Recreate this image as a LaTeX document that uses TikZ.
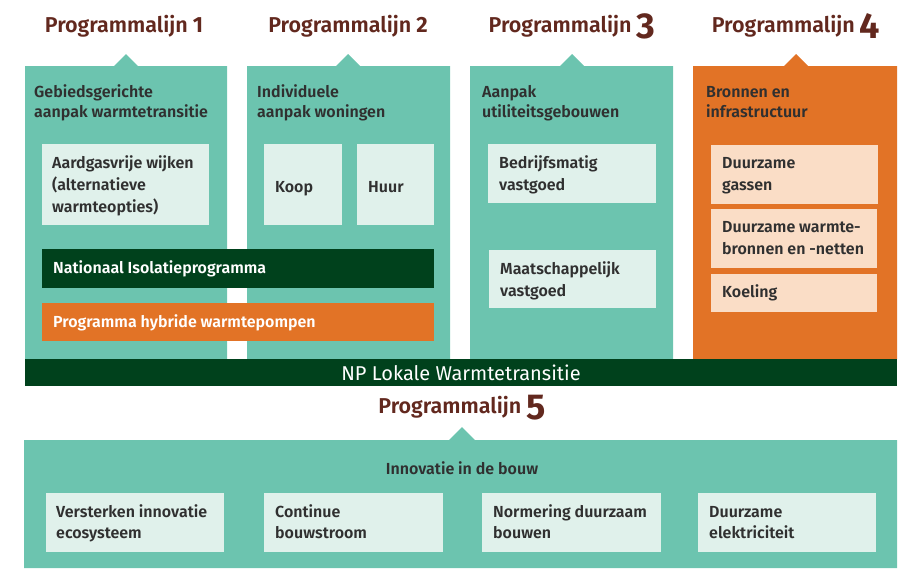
\documentclass[tikz,border=0pt]{standalone}
\usepackage{fontspec}
\setmainfont{Fira Sans}[BoldFont={Fira Sans SemiBold}]
\newfontfamily\digfont{Fira Sans}
\definecolor{cTeal}{RGB}{108,196,175}
\definecolor{cMint}{RGB}{224,241,235}
\definecolor{cOrange}{RGB}{226,115,38}
\definecolor{cPeach}{RGB}{250,221,198}
\definecolor{cDark}{RGB}{0,65,28}
\definecolor{cHead}{RGB}{98,40,30}
\definecolor{cText}{RGB}{48,48,48}
\begin{document}
\begin{tikzpicture}[x=1pt,y=-1pt,
  head/.style={anchor=base,inner sep=0,text=cHead,font=\bfseries\fontsize{21.5}{22}\selectfont},
  sub/.style={anchor=base west,inner sep=0,text=cText,align=left,font=\bfseries\fontsize{16}{20}\selectfont},
  txt/.style={anchor=base west,inner sep=0,text=cText,align=left,font=\bfseries\fontsize{16}{22}\selectfont},
  btxt/.style={anchor=base west,inner sep=0,text=cText,align=left,font=\bfseries\fontsize{16}{21}\selectfont},
  wtxt/.style={anchor=base west,inner sep=0,text=white,font=\bfseries\fontsize{16}{20}\selectfont},
  box/.style={anchor=north west,inner sep=0,fill=cMint},
  pbox/.style={anchor=north west,inner sep=0,fill=cPeach},
  bar/.style={anchor=north west,inner sep=0}]
\useasboundingbox (0,0) rectangle (899,568);
\newcommand\digs[1]{\hspace{5pt}{\digfont\bfseries\fontsize{22}{22}\selectfont #1}}
\newcommand\digl[1]{\hspace{5pt}\raisebox{-6pt}{\digfont\bfseries\fontsize{36}{36}\selectfont #1}}
% columns
\fill[cTeal] (25,66) -- (114,66) -- (126,54) -- (138,66) -- (227,66) -- (227,359) -- (25,359) -- cycle;
\fill[cTeal] (247,66) -- (336,66) -- (348,54) -- (360,66) -- (450,66) -- (450,359) -- (247,359) -- cycle;
\fill[cTeal] (470,66) -- (560,66) -- (572,54) -- (584,66) -- (673,66) -- (673,359) -- (470,359) -- cycle;
\fill[cOrange] (693,66) -- (784,66) -- (796,54) -- (808,66) -- (897,66) -- (897,359) -- (693,359) -- cycle;
% headings
\node[head] (h1) at (124,32) {Programmalijn\digs{1}};
\node[head] (h2) at (348,32) {Programmalijn\digs{2}};
\node[head] (h3) at (572,32) {Programmalijn\digl{3}};
\node[head] (h4) at (796,32) {Programmalijn\digl{4}};
% subtitles
\node[sub] (s1) at (34,117) {Gebiedsgerichte\\aanpak warmtetransitie};
\node[sub] (s2) at (257,117) {Individuele\\aanpak woningen};
\node[sub] (s3) at (482,117) {Aanpak\\utiliteitsgebouwen};
\node[sub] (s4) at (706,117) {Bronnen en\\infrastructuur};
% inner boxes
\node[box,minimum width=167,minimum height=81] (b1) at (42,144) {};
\node[txt] (t1) at ([shift={(10,68)}]b1.north west) {Aardgasvrije wijken\\(alternatieve\\warmteopties)};
\node[box,minimum width=78,minimum height=81] (bk) at (264,144) {};
\node[txt] (tk) at ([shift={(11,48)}]bk.north west) {Koop};
\node[box,minimum width=77,minimum height=81] (bh) at (357,144) {};
\node[txt] (th) at ([shift={(11,48)}]bh.north west) {Huur};
\node[box,minimum width=168,minimum height=59] (b3a) at (488,144) {};
\node[txt] (t3a) at ([shift={(11,46)}]b3a.north west) {Bedrijfsmatig\\vastgoed};
\node[box,minimum width=167,minimum height=58] (b3b) at (489,250) {};
\node[txt] (t3b) at ([shift={(11,46)}]b3b.north west) {Maatschappelijk\\vastgoed};
\node[pbox,minimum width=167,minimum height=59] (b4a) at (711,145) {};
\node[txt] (t4a) at ([shift={(11,45)}]b4a.north west) {Duurzame\\gassen};
\node[pbox,minimum width=166,minimum height=59] (b4b) at (711,209) {};
\node[txt] (t4b) at ([shift={(11,45)}]b4b.north west) {Duurzame warmte-\\bronnen en -netten};
\node[pbox,minimum width=166,minimum height=38] (b4c) at (711,274) {};
\node[txt] (t4c) at ([shift={(11,23)}]b4c.north west) {Koeling};
% bars
\node[bar,fill=cDark,minimum width=392,minimum height=39] (nat) at (42,249) {};
\node[wtxt] (tnat) at ([shift={(11,24)}]nat.north west) {Nationaal Isolatieprogramma};
\node[bar,fill=cOrange,minimum width=392,minimum height=38] (hyb) at (42,303) {};
\node[wtxt] (thyb) at ([shift={(11,24)}]hyb.north west) {Programma hybride warmtepompen};
\node[bar,fill=cDark,minimum width=872,minimum height=27] (np) at (25,359) {};
\node[anchor=base,inner sep=0,text=white,font=\fontsize{20}{20}\selectfont] (tnp) at (461,380) {NP Lokale Warmtetransitie};
% programmalijn 5
\node[head] (h5) at (462,413) {Programmalijn\digl{5}};
\fill[cTeal] (24,440) -- (449,440) -- (462,427) -- (475,440) -- (897,440) -- (897,568) -- (24,568) -- cycle;
\node[anchor=base,inner sep=0,text=cText,font=\bfseries\fontsize{16}{20}\selectfont] (inn) at (462,474) {Innovatie in de bouw};
\node[box,minimum width=178,minimum height=59] (c1) at (46,493) {};
\node[btxt] (tc1) at ([shift={(10,45)}]c1.north west) {Versterken innovatie\\ecosysteem};
\node[box,minimum width=179,minimum height=59] (c2) at (264,493) {};
\node[btxt] (tc2) at ([shift={(11,45)}]c2.north west) {Continue\\bouwstroom};
\node[box,minimum width=179,minimum height=59] (c3) at (482,493) {};
\node[btxt] (tc3) at ([shift={(11,45)}]c3.north west) {Normering duurzaam\\bouwen};
\node[box,minimum width=178,minimum height=59] (c4) at (698,493) {};
\node[btxt] (tc4) at ([shift={(11,45)}]c4.north west) {Duurzame\\elektriciteit};
\end{tikzpicture}
\end{document}
